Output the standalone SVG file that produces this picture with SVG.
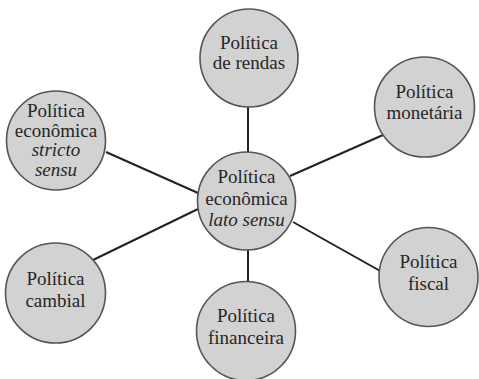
<svg xmlns="http://www.w3.org/2000/svg" width="479" height="379" viewBox="0 0 479 379">
<style>
.n{fill:#d2d2d2;stroke:#555;stroke-width:1.6}
.t{font-family:"Liberation Serif","Times New Roman",serif;font-size:19px;fill:#262626;text-anchor:middle}
.i{font-style:italic}
.c line{stroke:#222;stroke-width:2}
</style>
<rect width="479" height="379" fill="#fff"/>
<g class="c" id="connectors">
<line x1="248" y1="106" x2="248" y2="153"/>
<line x1="290" y1="176" x2="383" y2="135"/>
<line x1="106" y1="152" x2="198" y2="193"/>
<line x1="198" y1="209" x2="93" y2="260"/>
<line x1="248" y1="249" x2="248" y2="283"/>
<line x1="293" y1="222" x2="382" y2="272"/>
</g>
<g id="center"><circle class="n" cx="246.5" cy="201" r="49"/>
<text class="t" x="246.5" y="183">Política</text><text class="t" x="246.5" y="205">econômica</text><text class="t i" x="246.5" y="226">lato sensu</text></g>
<g id="rendas"><circle class="n" cx="249" cy="58" r="49"/>
<text class="t" x="249" y="49">Política</text><text class="t" x="249" y="69">de rendas</text></g>
<g id="monetaria"><circle class="n" cx="424.5" cy="107" r="50"/>
<text class="t" x="424.5" y="98">Política</text><text class="t" x="424.5" y="119">monetária</text></g>
<g id="stricto"><circle class="n" cx="56" cy="140.5" r="49.5"/>
<text class="t" x="56" y="117">Política</text><text class="t" x="56" y="137">econômica</text><text class="t i" x="56" y="156">stricto</text><text class="t i" x="56" y="176">sensu</text></g>
<g id="cambial"><circle class="n" cx="55.5" cy="293" r="50"/>
<text class="t" x="55.5" y="285">Política</text><text class="t" x="55.5" y="307">cambial</text></g>
<g id="financeira"><circle class="n" cx="246" cy="331" r="49.5"/>
<text class="t" x="246" y="322">Política</text><text class="t" x="246" y="344">financeira</text></g>
<g id="fiscal"><circle class="n" cx="428.5" cy="277" r="49.5"/>
<text class="t" x="428.5" y="268">Política</text><text class="t" x="428.5" y="290">fiscal</text></g>
</svg>
